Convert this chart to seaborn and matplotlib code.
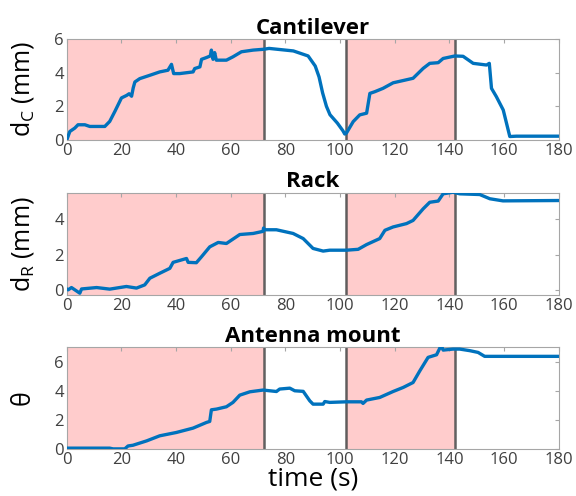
import numpy as np
import pandas as pd
import matplotlib
matplotlib.use("Agg")
import matplotlib.pyplot as plt
import seaborn as sns

# ---- data ----
cant_t = [0, 1.1, 2.9, 4.1, 6.6, 8.4, 13.9, 15.7, 17.6, 20, 21.9, 22.8, 23.7, 24.3, 24.9,
          26.7, 30.4, 34, 37, 38.3, 39.1, 41.3, 46.2, 46.8, 48.7, 49.3, 51, 52.5, 52.9,
          53.5, 54.1, 54.7, 58.4, 60.8, 63.9, 68.2, 72.1, 74, 82.9, 88.3, 90.9, 92.3,
          93.6, 95, 96.3, 99, 101, 101.7, 102.3, 104.8, 107.2, 109.7, 110.9, 112.7,
          115.7, 119.4, 126.7, 130.4, 132.8, 135.9, 137.7, 142, 145, 148.7, 153.6,
          154.6, 155.4, 157.2, 159.7, 160.9, 162.1, 164.5, 180]
cant_v = [0, 0.5, 0.7, 0.9, 0.9, 0.8, 0.8, 1.1, 1.7, 2.5, 2.65, 2.75, 2.6, 3.1, 3.45,
          3.65, 3.85, 4.05, 4.15, 4.5, 3.95, 3.95, 4.05, 4.25, 4.35, 4.8, 4.9, 5.0, 5.35,
          4.8, 5.2, 4.75, 4.75, 4.95, 5.25, 5.35, 5.4, 5.45, 5.3, 5.0, 4.4, 3.75,
          2.8, 2.0, 1.5, 1.0, 0.55, 0.35, 0.4, 1.09, 1.49, 1.59, 2.77, 2.87,
          3.07, 3.4, 3.67, 4.26, 4.56, 4.6, 4.85, 5.0, 4.98, 4.56, 4.46,
          4.56, 3.07, 2.57, 1.78, 0.99, 0.2, 0.22, 0.22]

rack_t = [0, 0.5, 1.7, 4.75, 5.4, 10.9, 15.7, 21.8, 25.5, 28.5, 30.4, 34, 37.7, 38.9,
          43.8, 44.4, 47.4, 49.3, 52.3, 55.4, 58.4, 63.3, 68.2, 71.8, 72, 72.3, 76.7,
          82.8, 86.5, 90.1, 93.8, 96.2, 102.3, 106.6, 109.7, 114.5, 116.4, 119.4, 124.3,
          126.7, 130.4, 132.8, 135.9, 137.7, 141.3, 143.8, 151.1, 154.8, 159.6, 180]
rack_v = [0.05, 0.0, 0.13, -0.19, 0.05, 0.13, 0.04, 0.19, 0.1, 0.28, 0.66, 0.94, 1.22, 1.56,
          1.78, 1.56, 1.54, 1.88, 2.44, 2.69, 2.63, 3.14, 3.2, 3.32, 3.51, 3.41, 3.41,
          3.2, 2.91, 2.35, 2.2, 2.25, 2.25, 2.3, 2.57, 2.91, 3.38, 3.57, 3.76,
          3.94, 4.6, 4.97, 5.04, 5.45, 5.54, 5.45, 5.41, 5.17, 5.05, 5.07]

ant_t = [0, 0.5, 15.7, 16.9, 21.2, 22.4, 24.2, 29.2, 34, 40.1, 46.2, 51.1, 52.3, 52.9,
         54.8, 58.4, 60.8, 63.3, 67, 71.8, 76.7, 77.9, 81.6, 83.4, 86.5, 88.9, 90.1,
         93.8, 94.4, 96.2, 102.3, 107.8, 108.4, 109.7, 114.5, 119.4, 123.1, 126.7,
         129.2, 132.2, 135.3, 136.5, 137.1, 137.7, 141.3, 143.8, 147.5, 150.5, 152.9, 180]
ant_v = [0.05, 0.05, 0.05, 0.0, 0.0, 0.2, 0.25, 0.55, 0.9, 1.13, 1.43, 1.82, 1.89, 2.69,
         2.74, 2.9, 3.2, 3.7, 3.93, 4.05, 3.95, 4.12, 4.18, 4.0, 3.96, 3.31, 3.08,
         3.08, 3.26, 3.2, 3.24, 3.24, 3.13, 3.36, 3.54, 3.95, 4.23, 4.57,
         5.38, 6.3, 6.48, 6.94, 7.1, 6.8, 6.87, 6.87, 6.76, 6.64, 6.37, 6.37]

titles = ["Cantilever", "Rack", "Antenna mount"]
ylabels = [r"d$_\mathregular{C}$ (mm)", r"d$_\mathregular{R}$ (mm)", "θ"]
xlabel = "time (s)"
shade_spans = [(0, 72), (102, 142)]
vlines = [72, 102, 142]
ylims = [(0, 6), (-0.3, 5.5), (0, 7)]
yticks = [[0, 2, 4, 6], [0, 2, 4], [0, 2, 4, 6]]
xticks = list(range(0, 181, 20))

series = [(cant_t, cant_v), (rack_t, rack_v), (ant_t, ant_v)]

sns.set_style("white")
plt.rcParams["font.family"] = ["Open Sans", "DejaVu Sans"]
plt.rcParams["mathtext.fontset"] = "custom"
plt.rcParams["mathtext.rm"] = "Open Sans"
plt.rcParams["mathtext.it"] = "Open Sans"

fig = plt.figure(figsize=(5.76, 4.96), dpi=100)
left, width = 0.116, 0.854
rects = [(left, 0.718, width, 0.203), (left, 0.405, width, 0.206), (left, 0.095, width, 0.205)]

line_color = "#0072BD"
tick_color = "#404040"
spine_color = "#a6a6a6"

for i, (rect, (t, v)) in enumerate(zip(rects, series)):
    ax = fig.add_axes(rect)
    for a, b in shade_spans:
        ax.axvspan(a, b, color="#ffcccc", lw=0, zorder=0)
    for x in vlines:
        ax.axvline(x, color="#505050", lw=1.8, alpha=0.9, zorder=1)
    df = pd.DataFrame({"t": t, "v": v})
    sns.lineplot(data=df, x="t", y="v", ax=ax, color=line_color, lw=2.4,
                 estimator=None, sort=False, zorder=3)
    ax.set_xlim(0, 180)
    ax.set_ylim(*ylims[i])
    ax.set_xticks(xticks)
    ax.set_yticks(yticks[i])
    ax.tick_params(direction="in", top=True, right=True, length=3, width=0.8,
                   colors=spine_color, labelcolor=tick_color, labelsize=12, pad=2)
    for s in ax.spines.values():
        s.set_color(spine_color)
        s.set_linewidth(0.8)
    ax.set_title(titles[i], fontsize=16, fontweight="bold", color="black", pad=4)
    ax.set_ylabel(ylabels[i], fontsize=18, color="black")
    if i == 2:
        ax.set_xlabel(xlabel, fontsize=19, color="black", labelpad=-1)
    else:
        ax.set_xlabel("")
    ax.yaxis.set_label_coords(-0.063, 0.5)

fig.savefig("out.png", dpi=100)
